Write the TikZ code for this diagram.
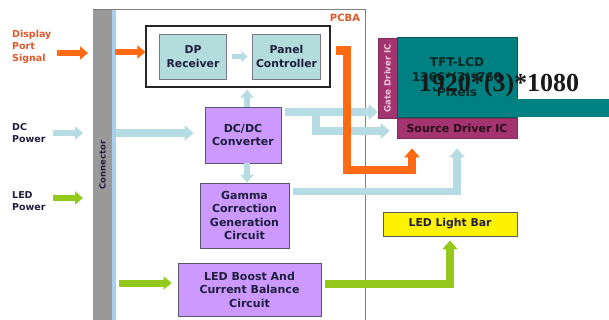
\documentclass[tikz,border=0pt]{standalone}
\usepackage{fontspec}
\setmainfont{DejaVu Sans}
\newfontfamily\overlayfont{Liberation Serif}
\usetikzlibrary{arrows.meta,calc}
\definecolor{PanelOrange}{HTML}{FF6A13}
\definecolor{PanelLabel}{HTML}{E2582B}
\definecolor{PanelBlue}{HTML}{B5DCE2}
\definecolor{PanelStrip}{HTML}{A9CFEF}
\definecolor{PanelGreen}{HTML}{93C91C}
\definecolor{PanelCyan}{HTML}{B3DCDC}
\definecolor{PanelViolet}{HTML}{CC99FF}
\definecolor{PanelPlum}{HTML}{A3346F}
\definecolor{PanelPale}{HTML}{EBC8DA}
\definecolor{PanelTeal}{HTML}{008080}
\definecolor{PanelGray}{HTML}{999999}
\definecolor{PanelInk}{HTML}{1E1E3C}
\tikzset{
  sidelabel/.style={font=\fontsize{9.5}{12}\selectfont\bfseries, text=PanelInk,
                    align=left, anchor=north west, inner sep=0pt},
  groupbox/.style={draw=black!85, fill=white, line width=1.3pt,
                   minimum width=184pt, minimum height=61pt},
  ctrlbox/.style={draw=PanelInk!60, fill=PanelCyan, line width=0.8pt, align=center,
                  font=\fontsize{10.8}{13.5}\selectfont\bfseries, text=PanelInk,
                  minimum width=67.5pt, minimum height=45pt, inner sep=1pt},
  powerbox/.style={draw=PanelInk!75, fill=PanelViolet, line width=0.8pt, align=center,
                   font=\fontsize{11}{13.5}\selectfont\bfseries, text=PanelInk,
                   inner sep=1pt},
  drvbox/.style={draw=PanelPlum!80!black, fill=PanelPlum, line width=0.6pt,
                 align=center, inner sep=0pt},
  tftbox/.style={draw=PanelTeal!70!black, fill=PanelTeal, line width=0.6pt,
                 minimum width=120pt, minimum height=80pt, align=center,
                 font=\fontsize{12}{15}\selectfont\bfseries, text=PanelTeal!30!black},
  barbox/.style={draw=black!65, fill=yellow, line width=0.8pt,
                 minimum width=134pt, minimum height=24pt,
                 font=\fontsize{10.8}{12}\selectfont\bfseries, text=PanelInk},
  sigarrow/.style={-{Triangle[length=8pt,width=13pt]}, line width=6pt, PanelOrange},
  pwrarrow/.style={-{Triangle[length=9pt,width=15pt]}, line width=7.5pt, PanelBlue},
  ledarrow/.style={-{Triangle[length=8pt,width=13pt]}, line width=7pt, PanelGreen},
}

\begin{document}
\begin{tikzpicture}[x=1pt, y=-1pt]
  \useasboundingbox (0,0) rectangle (609,320);

  % board outline and connector
  \draw[black!50, line width=1pt] (93,10) -- (365,10) -- (365,320);
  \fill[PanelStrip] (112,10) rectangle (116,320);
  \node[fill=PanelGray, minimum width=19pt, minimum height=310pt, inner sep=0pt,
        font=\fontsize{8.4}{10}\selectfont\bfseries, text=PanelInk]
        (conn) at (102.5,165) {\rotatebox{90}{Connector}};
  \node[font=\fontsize{10}{12}\selectfont\bfseries, text=PanelLabel] (pcba) at (345,18) {PCBA};

  % inputs
  \node[sidelabel, text=PanelLabel] (dpsig) at (12,30) {Display\\Port\\Signal};
  \node[sidelabel] (dcpwr) at (12,123) {DC\\Power};
  \node[sidelabel] (ledpwr) at (12,191) {LED\\Power};

  % controller group
  \node[groupbox] (frame) at (238,56.5) {};
  \node[ctrlbox] (dp) at (193,56.5) {DP\\Receiver};
  \node[ctrlbox] (pc) at (286.5,56.5) {Panel\\Controller};

  % power blocks
  \node[powerbox, minimum width=76pt, minimum height=56pt] (dcdc) at (243,135)
        {DC/DC\\Converter};
  \node[powerbox, minimum width=89pt, minimum height=65pt] (gamma) at (244.5,215.5)
        {Gamma\\Correction\\Generation\\Circuit};
  \node[powerbox, minimum width=143pt, minimum height=53pt] (boost) at (249.5,289.5)
        {LED Boost And\\Current Balance\\Circuit};

  % panel
  \node[drvbox, minimum width=19pt, minimum height=80pt,
        font=\fontsize{8.6}{10}\selectfont\bfseries, text=PanelPale]
        (gate) at (387.5,78) {\rotatebox{90}{Gate Driver IC}};
  \node[tftbox] (tft) at (457,77) {TFT-LCD\\1366*(3)*768\\Pixels};
  \node[drvbox, minimum width=120pt, minimum height=20pt,
        font=\fontsize{11}{12}\selectfont\bfseries, text=PanelPlum!25!black]
        (src) at (457,128) {Source Driver IC};
  \node[barbox] (lightbar) at (450,224) {LED Light Bar};

  % signal path
  \coordinate (dptail) at (57,53);
  \coordinate (dphead) at (88,53);
  \draw[sigarrow] (dptail) -- (dphead);
  \coordinate (dpin) at (115,52);
  \draw[sigarrow] (dpin) -- (dpin -| frame.west);
  \draw[pwrarrow, line width=5pt, -{Triangle[length=6pt,width=11pt]},
        shorten <=5pt, shorten >=5pt] (dp) -- (pc);

  % power path
  \coordinate (dctail) at (53,133);
  \coordinate (dchead) at (83,133);
  \draw[pwrarrow, line width=6pt, -{Triangle[length=8pt,width=13pt]}] (dctail) -- (dchead);
  \coordinate (dcin) at (116,133);
  \draw[pwrarrow, shorten >=11pt] (dcin) -- (dcin -| dcdc.west);
  \draw[pwrarrow, line width=6pt, -{Triangle[length=8pt,width=13pt]}, shorten >=2pt]
        ([xshift=4pt]dcdc.north) -- ([xshift=4pt]dcdc.north |- frame.south);
  \draw[pwrarrow, line width=6pt, -{Triangle[length=8pt,width=13pt]}]
        ([xshift=4pt]dcdc.south) -- ([xshift=2.5pt]gamma.north);
  \draw[pwrarrow] ([xshift=4pt,yshift=23pt]dcdc.east) -- ([yshift=23pt]dcdc.east -| gate.west);
  \coordinate (dcsplit) at (316,112);
  \draw[pwrarrow] (dcsplit) |- ([xshift=-7pt,yshift=-3pt]src.west);
  \draw[pwrarrow] ([xshift=4pt,yshift=24pt]gamma.east) -| ([yshift=-10pt]src.south);

  % data to source driver
  \coordinate (obend) at (347,170);
  \draw[sigarrow, line width=8.5pt, -{Triangle[length=9pt,width=15pt]}]
        ([xshift=5pt,yshift=6pt]frame.east) -| (obend) -| ([xshift=-45pt,yshift=-10pt]src.south);

  % LED path
  \coordinate (ledtail) at (53,198);
  \coordinate (ledhead) at (83,198);
  \draw[ledarrow, line width=6pt] (ledtail) -- (ledhead);
  \coordinate (ledin) at (119,283);
  \draw[ledarrow, shorten >=6pt] (ledin) -- (ledin -| boost.west);
  \draw[ledarrow, line width=8pt, -{Triangle[length=9pt,width=15pt]}]
        ([xshift=4pt,yshift=6pt]boost.east) -| ([yshift=-4pt]lightbar.south);

  % pasted resolution label
  \fill[PanelTeal] (517,99) rectangle (609,117);
  \node[font=\overlayfont\bfseries\fontsize{26}{28}\selectfont, text=black!90, inner sep=0pt]
        (res) at (499,85) {1920*(3)*1080};
\end{tikzpicture}
\end{document}
